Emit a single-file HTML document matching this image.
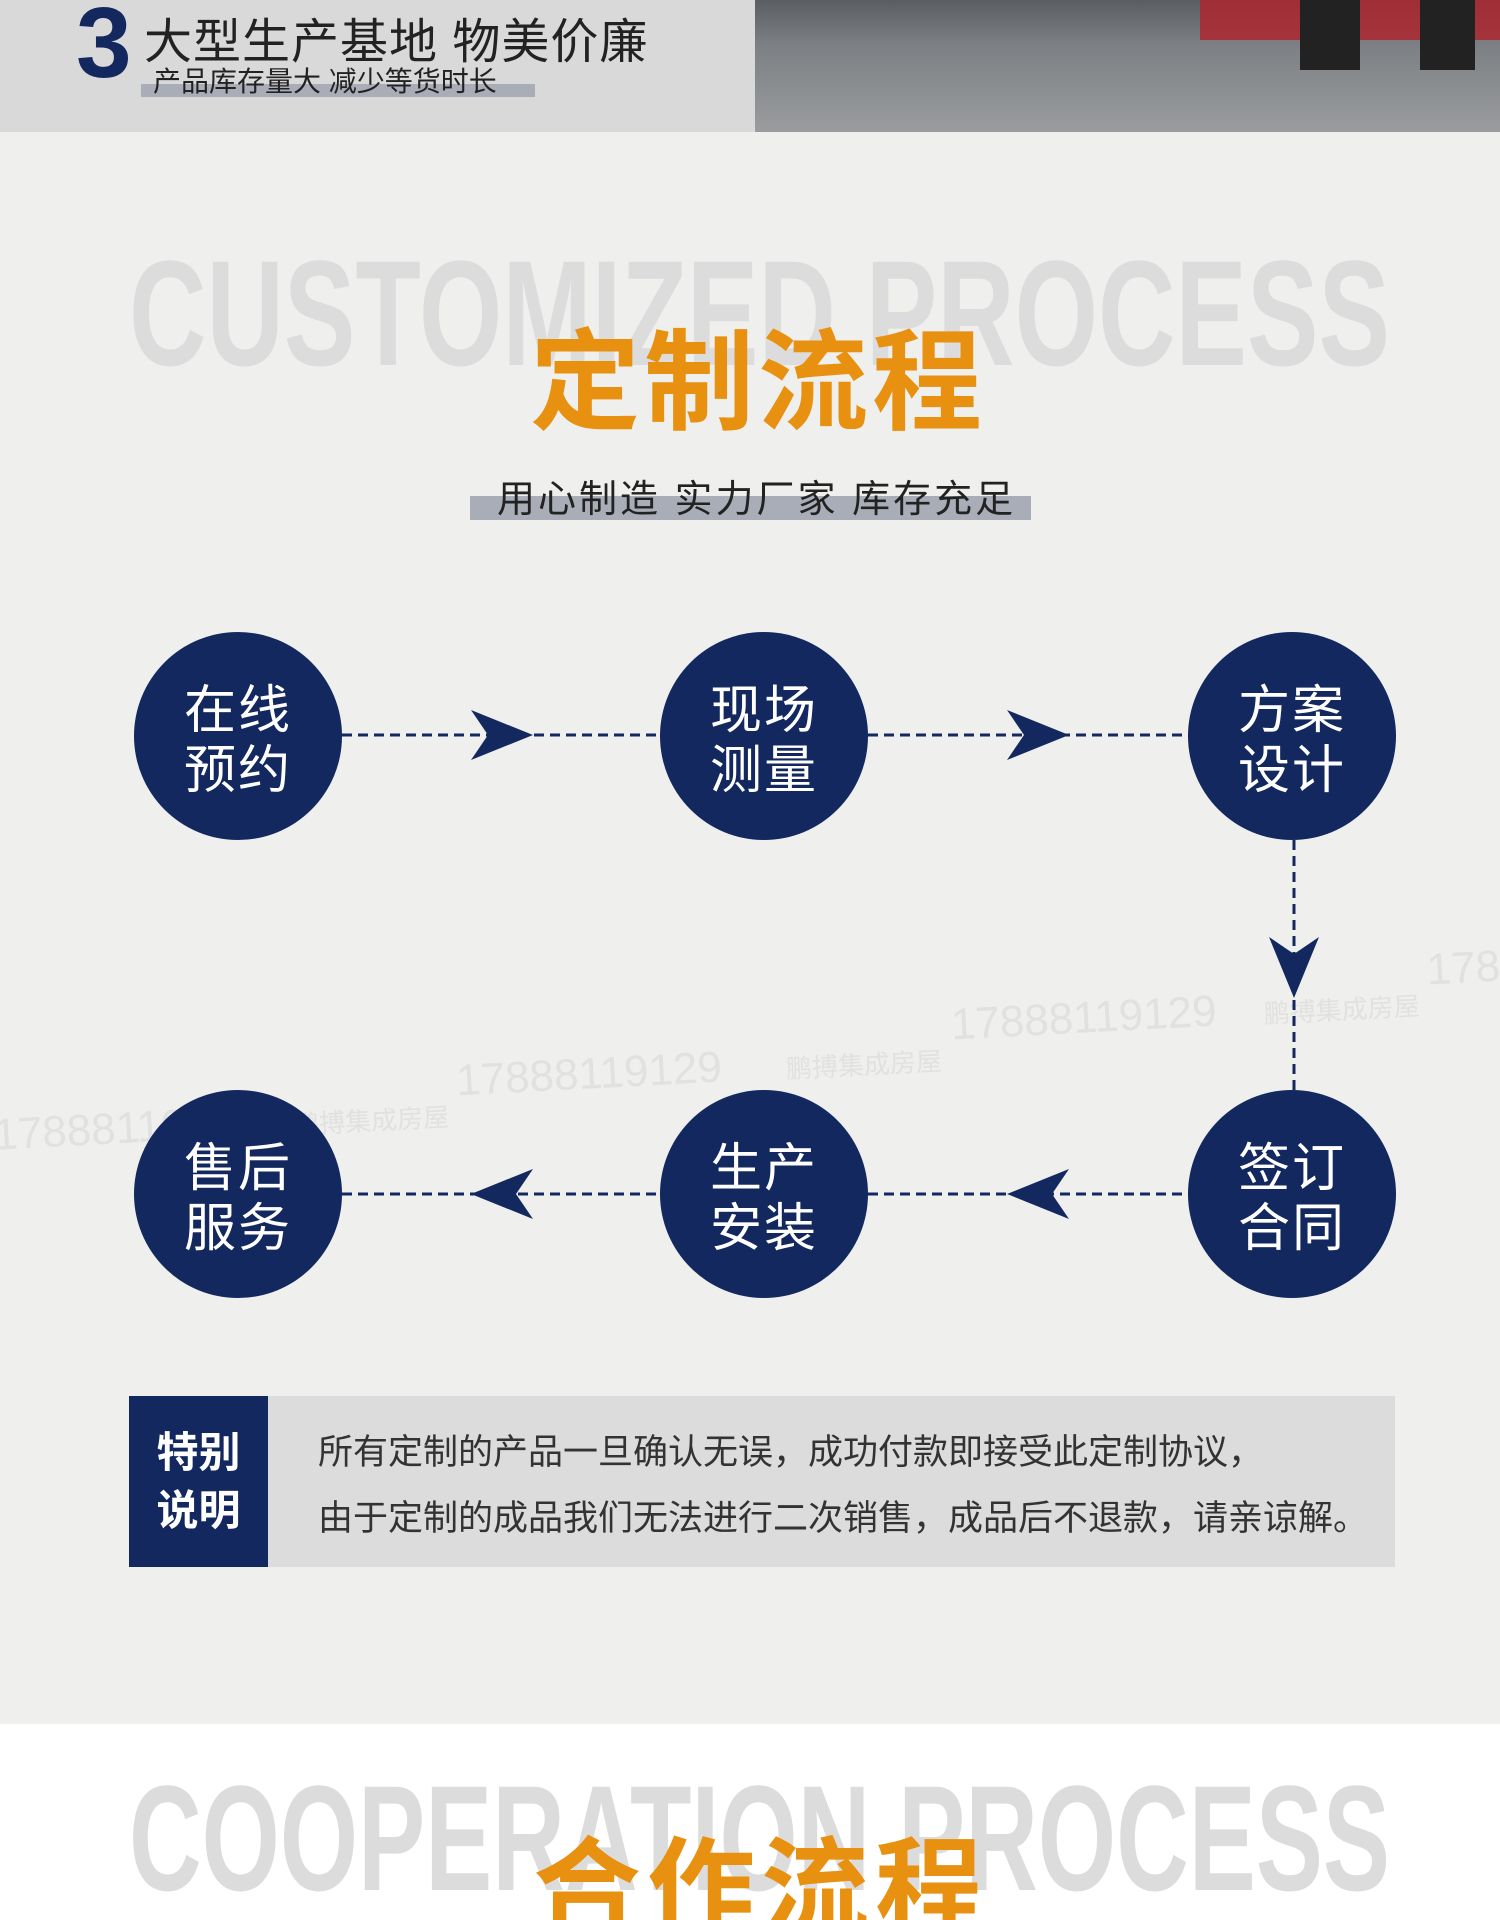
<!DOCTYPE html>
<html style="width:1500px;height:1920px;overflow:hidden"><head><meta charset="utf-8"><style>
*{margin:0;padding:0;box-sizing:border-box}
body{width:1500px;height:1920px;overflow:hidden;background:#efefed;position:relative;font-family:"Liberation Sans","Noto Sans CJK SC",sans-serif}
.a{position:absolute}
.c{position:absolute;width:208px;height:208px;border-radius:50%;background:#13285f;color:#fff;font-size:52px;line-height:60px;text-align:center;display:flex;align-items:center;justify-content:center;letter-spacing:2px;padding-top:10px}
</style></head><body>
<div class="a" style="left:0;top:1724px;width:1500px;height:196px;background:#fff"></div>
<div class="a" style="left:0;top:0;width:755px;height:132px;background:#d9d9d9"></div>
<div class="a" style="left:755px;top:0;width:745px;height:132px;background:linear-gradient(180deg,#5a5e63 0%,#7d8084 35%,#9a9c9e 100%)"></div>
<div class="a" style="left:1200px;top:0;width:300px;height:40px;background:#b0222a;opacity:.8"></div>
<div class="a" style="left:1300px;top:0;width:60px;height:70px;background:#222"></div>
<div class="a" style="left:1420px;top:0;width:55px;height:70px;background:#222"></div>
<div class="a" style="left:76px;top:-14px;font-size:100px;font-weight:bold;color:#13285f">3</div>
<div class="a" style="left:144px;top:2px;font-size:48px;color:#222;letter-spacing:1px">大型生产基地 物美价廉</div>
<div class="a" style="left:141px;top:84px;width:394px;height:13px;background:#a9adb8"></div>
<div class="a" style="left:153px;top:60px;font-size:28px;color:#222">产品库存量大 减少等货时长</div>

<svg class="a" style="left:0;top:0" width="1500" height="1920">
<text x="129" y="365" font-family="Liberation Sans" font-weight="bold" font-size="150" fill="#dcdcdc" textLength="1261" lengthAdjust="spacingAndGlyphs">CUSTOMIZED PROCESS</text>
<g fill="#e1e1e1" font-family="Liberation Sans" font-size="44" transform="rotate(-3 750 1050)">
<text x="-10" y="1110">17888119129</text><text x="455" y="1080">17888119129</text><text x="952" y="1050">17888119129</text><text x="1430" y="1020">178</text>
<text x="290" y="1110" font-size="26" font-family="Noto Sans CJK SC">鹏搏集成房屋</text><text x="785" y="1080" font-size="26" font-family="Noto Sans CJK SC">鹏搏集成房屋</text><text x="1265" y="1050" font-size="26" font-family="Noto Sans CJK SC">鹏搏集成房屋</text>
</g>
<g stroke="#13285f" stroke-width="3" stroke-dasharray="10,6" fill="none">
<line x1="342" y1="735" x2="660" y2="735"/><line x1="868" y1="735" x2="1188" y2="735"/>
<line x1="1294" y1="840" x2="1294" y2="1090"/>
<line x1="342" y1="1194" x2="660" y2="1194"/><line x1="868" y1="1194" x2="1188" y2="1194"/>
</g>
<g fill="#13285f">
<path d="M471 710 L533 735 L471 760 L488 735Z"/><path d="M1007 710 L1069 735 L1007 760 L1024 735Z"/>
<path d="M1269 937 L1294 998 L1319 937 L1294 954Z"/>
<path d="M533 1169 L471 1194 L533 1219 L516 1194Z"/><path d="M1069 1169 L1007 1194 L1069 1219 L1052 1194Z"/>
</g>
<text x="129" y="1890" font-family="Liberation Sans" font-weight="bold" font-size="150" fill="#dcdcdc" textLength="1261" lengthAdjust="spacingAndGlyphs">COOPERATION PROCESS</text>
</svg>
<div class="a" style="left:533px;top:1830px;font-size:108px;line-height:120px;font-weight:bold;color:#e8900f;letter-spacing:6px">合作流程</div>

<div class="a" style="left:530px;top:326px;font-size:110px;line-height:115px;font-weight:bold;color:#e8900f;letter-spacing:4px">定制流程</div>
<div class="a" style="left:470px;top:496px;width:561px;height:24px;background:#a9adb8"></div>
<div class="a" style="left:497px;top:468px;font-size:38px;color:#222;letter-spacing:3px">用心制造 实力厂家 库存充足</div>

<div class="c" style="left:134px;top:632px">在线<br>预约</div>
<div class="c" style="left:660px;top:632px">现场<br>测量</div>
<div class="c" style="left:1188px;top:632px">方案<br>设计</div>
<div class="c" style="left:134px;top:1090px">售后<br>服务</div>
<div class="c" style="left:660px;top:1090px">生产<br>安装</div>
<div class="c" style="left:1188px;top:1090px">签订<br>合同</div>

<div class="a" style="left:129px;top:1396px;width:1266px;height:171px;background:#dcdcdc"></div>
<div class="a" style="left:129px;top:1396px;width:139px;height:171px;background:#13285f;color:#fff;font-size:42px;font-weight:bold;line-height:58px;display:flex;align-items:center;justify-content:center;text-align:center">特别<br>说明</div>
<div class="a" style="left:318px;top:1420px;font-size:35px;color:#333;line-height:66px">所有定制的产品一旦确认无误，成功付款即接受此定制协议，<br>由于定制的成品我们无法进行二次销售，成品后不退款，请亲谅解。</div>
</body></html>
